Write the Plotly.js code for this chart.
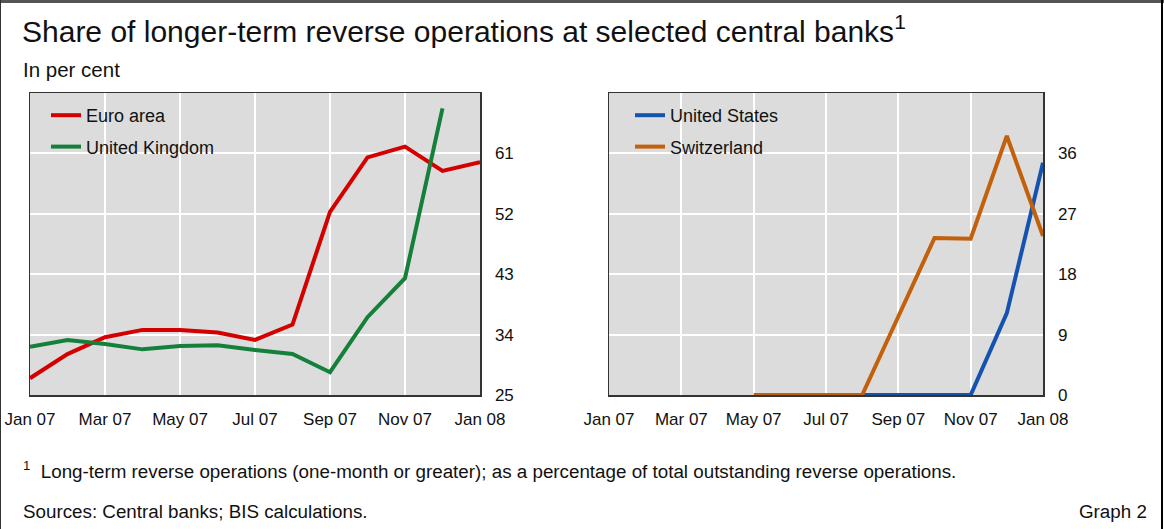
<!DOCTYPE html>
<html>
<head>
<meta charset="utf-8">
<script src="https://cdn.plot.ly/plotly-3.0.1.min.js"></script>
<style>
  html, body { margin: 0; padding: 0; background: #ffffff; }
  #chart { width: 1164px; height: 529px; }
</style>
</head>
<body>
<div id="chart"></div>
<script>
// ---- Data ----
const months = ['Jan 07','Feb 07','Mar 07','Apr 07','May 07','Jun 07','Jul 07','Aug 07','Sep 07','Oct 07','Nov 07','Dec 07','Jan 08'];
const tickMonths = ['Jan 07','Mar 07','May 07','Jul 07','Sep 07','Nov 07','Jan 08'];

const euroArea      = [27.5, 31.1, 33.6, 34.7, 34.7, 34.3, 33.2, 35.5, 52.3, 60.4, 62.0, 58.4, 59.7];
const unitedKingdom = [32.2, 33.2, 32.6, 31.8, 32.3, 32.4, 31.7, 31.1, 28.4, 36.6, 42.4, 67.7, null];
const unitedStates  = [null, null, null, null, null, null, null, 0, 0, 0, 0, 12.2, 34.6];
const switzerland   = [null, null, null, null, 0, 0, 0, 0, 11.7, 23.4, 23.3, 38.6, 23.7];

const leftTicks  = [25, 34, 43, 52, 61];
const rightTicks = [0, 9, 18, 27, 36];

// ---- Layout helpers ----
const W = 1164, H = 529;
const px = x => x / W;
const py = y => 1 - y / H;
const FONT = 'Arial, "Liberation Sans", sans-serif';

const traces = [
  { x: months, y: euroArea, name: 'Euro area', type: 'scatter', mode: 'lines',
    line: { color: '#d40000', width: 4 }, xaxis: 'x', yaxis: 'y', legend: 'legend', legendgroup: 'a' },
  { x: months, y: unitedKingdom, name: 'United Kingdom', type: 'scatter', mode: 'lines',
    line: { color: '#14803a', width: 4 }, xaxis: 'x', yaxis: 'y', legend: 'legend', legendgroup: 'b' },
  { x: months, y: unitedStates, name: 'United States', type: 'scatter', mode: 'lines',
    line: { color: '#1454b0', width: 4 }, xaxis: 'x2', yaxis: 'y2', legend: 'legend2', legendgroup: 'c' },
  { x: months, y: switzerland, name: 'Switzerland', type: 'scatter', mode: 'lines',
    line: { color: '#c2600c', width: 4 }, xaxis: 'x2', yaxis: 'y2', legend: 'legend2', legendgroup: 'd' }
];

const xCommon = {
  type: 'category', categoryorder: 'array', categoryarray: months,
  range: [0, 12], tickmode: 'array', tickvals: tickMonths, ticktext: tickMonths,
  showgrid: true, gridcolor: '#ffffff', gridwidth: 2,
  showline: true, mirror: true, linecolor: '#333333', linewidth: 1.5,
  ticks: '', ticklabelstandoff: 8,
  tickfont: { family: FONT, size: 17, color: '#111' },
  zeroline: false, fixedrange: true
};
const yCommon = {
  side: 'right', tickmode: 'array',
  showgrid: true, gridcolor: '#ffffff', gridwidth: 2,
  showline: true, mirror: true, linecolor: '#333333', linewidth: 1.5,
  ticks: '', ticklabelstandoff: 10,
  tickfont: { family: FONT, size: 17, color: '#111' },
  zeroline: false, fixedrange: true
};

const legendCommon = {
  bgcolor: 'rgba(0,0,0,0)', borderwidth: 0,
  font: { family: FONT, size: 18, color: '#111' },
  xanchor: 'left', yanchor: 'top', tracegroupgap: 5, traceorder: 'grouped',
  itemwidth: 30
};

const layout = {
  width: W, height: H,
  margin: { l: 0, r: 0, t: 0, b: 0, pad: 0 },
  paper_bgcolor: '#ffffff',
  plot_bgcolor: '#dcdcdc',
  showlegend: true,
  font: { family: FONT, color: '#111' },
  title: {
    text: 'Share of longer-term reverse operations at selected central banks<sup>1</sup>',
    x: px(22), xanchor: 'left', xref: 'paper',
    y: py(31), yanchor: 'middle', yref: 'paper',
    font: { family: FONT, size: 30, color: '#111' }
  },
  xaxis: Object.assign({}, xCommon, { domain: [px(30), px(480)], anchor: 'y' }),
  yaxis: Object.assign({}, yCommon, { domain: [py(395), py(93)], range: [25, 70], tickvals: leftTicks, anchor: 'x' }),
  xaxis2: Object.assign({}, xCommon, { domain: [px(609), px(1043)], anchor: 'y2' }),
  yaxis2: Object.assign({}, yCommon, { domain: [py(395), py(93)], range: [0, 45], tickvals: rightTicks, anchor: 'x2' }),
  legend: Object.assign({}, legendCommon, { x: px(46), y: py(97) }),
  legend2: Object.assign({}, legendCommon, { x: px(630), y: py(97) }),
  annotations: [
    { text: 'In per cent', xref: 'paper', yref: 'paper', x: px(21), y: py(70),
      xanchor: 'left', yanchor: 'middle', showarrow: false,
      font: { family: FONT, size: 20.5, color: '#111' } },
    { text: '<sup>1</sup>  Long-term reverse operations (one-month or greater); as a percentage of total outstanding reverse operations.',
      xref: 'paper', yref: 'paper', x: px(21), y: py(470),
      xanchor: 'left', yanchor: 'middle', showarrow: false,
      font: { family: FONT, size: 18.8, color: '#111' } },
    { text: 'Sources: Central banks; BIS calculations.', xref: 'paper', yref: 'paper', x: px(21), y: py(511),
      xanchor: 'left', yanchor: 'middle', showarrow: false,
      font: { family: FONT, size: 18.8, color: '#111' } },
    { text: 'Graph 2', xref: 'paper', yref: 'paper', x: px(1149), y: py(511),
      xanchor: 'right', yanchor: 'middle', showarrow: false,
      font: { family: FONT, size: 18.8, color: '#111' } }
  ],
  shapes: [
    { type: 'line', xref: 'paper', yref: 'paper', x0: 0, x1: 1, y0: py(1.5), y1: py(1.5),
      line: { color: '#555555', width: 3 } },
    { type: 'line', xref: 'paper', yref: 'paper', x0: px(0.5), x1: px(0.5), y0: 0, y1: 1,
      line: { color: '#333333', width: 1 } },
    { type: 'line', xref: 'paper', yref: 'paper', x0: px(1162), x1: px(1162), y0: 0, y1: 1,
      line: { color: '#000000', width: 2 } }
  ]
};

Plotly.newPlot('chart', traces, layout, { staticPlot: true, displayModeBar: false });
</script>
</body>
</html>
